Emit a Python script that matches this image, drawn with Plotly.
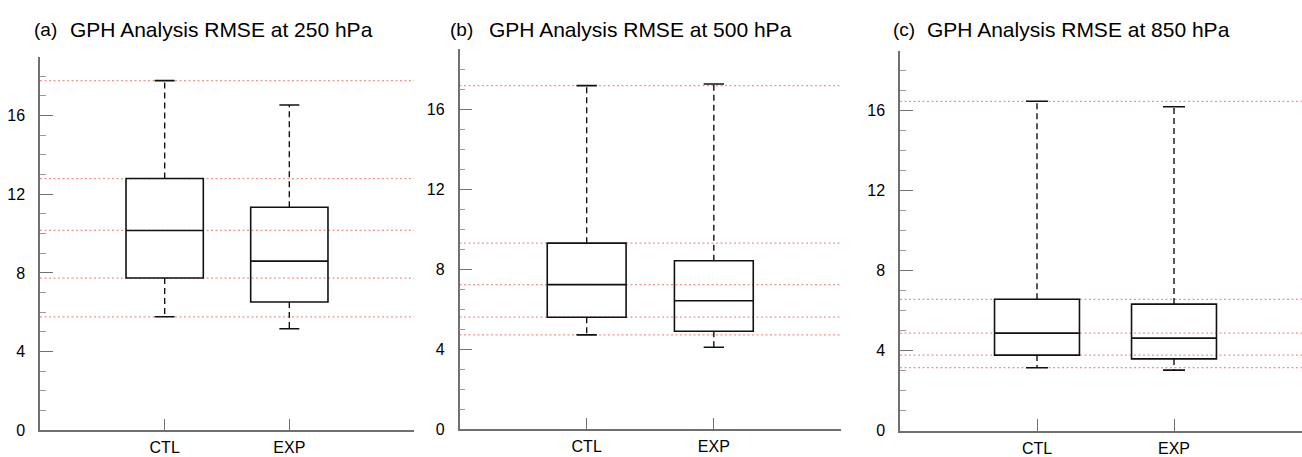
import plotly.graph_objects as go

# ---- data ----
categories = ["CTL", "EXP"]
panel_labels = ["(a)", "(b)", "(c)"]
panel_titles = ["GPH Analysis RMSE at 250 hPa",
                "GPH Analysis RMSE at 500 hPa",
                "GPH Analysis RMSE at 850 hPa"]

# stats order: min, q1, median, q3, max
ctl_250 = [5.77, 7.74, 10.16, 12.80, 17.78]
exp_250 = [5.16, 6.52, 8.60, 11.34, 16.54]
ctl_500 = [4.72, 5.60, 7.23, 9.30, 17.17]
exp_500 = [4.10, 4.90, 6.42, 8.42, 17.25]
ctl_850 = [3.15, 3.78, 4.88, 6.57, 16.47]
exp_850 = [3.03, 3.59, 4.63, 6.33, 16.20]

panels = [(ctl_250, exp_250), (ctl_500, exp_500), (ctl_850, exp_850)]

# ---- layout geometry (pixels) ----
W, H = 1302, 457
px_x = [(40, 414), (459.5, 841), (900, 1302)]
px_y = [(56.6, 430.3), (49, 429.3), (50.7, 430.7)]
x_ranges = [[0, 3], [0, 3], [0, (1302 - 900) / 137.0]]
title_x = [(32, 68), (448, 487), (891, 925)]

BOX_W = 0.62
CAP_HALF = 0.08
AXIS_COL = "#707070"
RED = "rgba(240,100,100,0.7)"

fig = go.Figure()
shapes = []
annotations = []

for i, (ctl, exp) in enumerate(panels):
    xa = "x" if i == 0 else f"x{i+1}"
    ya = "y" if i == 0 else f"y{i+1}"
    # red dotted reference lines at the CTL statistics
    for v in ctl:
        shapes.append(dict(type="line", xref=f"{xa} domain", yref=ya,
                           x0=0, x1=1, y0=v, y1=v, layer="below",
                           line=dict(color=RED, width=1.3, dash="2px,2.5px")))
    for k, st in enumerate([ctl, exp]):
        xc = k + 1
        mn, q1, md, q3, mx = st
        # box
        fig.add_trace(go.Box(x=[xc], q1=[q1], median=[md], q3=[q3],
                             lowerfence=[q1], upperfence=[q3],
                             width=BOX_W, whiskerwidth=0,
                             line=dict(color="#111111", width=1.6),
                             fillcolor="rgba(0,0,0,0)",
                             boxpoints=False, showlegend=False,
                             hoverinfo="skip",
                             xaxis=xa, yaxis=ya))
        # dashed whiskers
        fig.add_trace(go.Scatter(x=[xc, xc, None, xc, xc],
                                 y=[q3, mx, None, q1, mn],
                                 mode="lines", showlegend=False,
                                 hoverinfo="skip",
                                 line=dict(color="#111111", width=1.4,
                                           dash="6px,4px"),
                                 xaxis=xa, yaxis=ya))
        # caps
        fig.add_trace(go.Scatter(x=[xc - CAP_HALF, xc + CAP_HALF, None,
                                    xc - CAP_HALF, xc + CAP_HALF],
                                 y=[mx, mx, None, mn, mn],
                                 mode="lines", showlegend=False,
                                 hoverinfo="skip",
                                 line=dict(color="#111111", width=1.6),
                                 xaxis=xa, yaxis=ya))

    # titles
    annotations.append(dict(text=panel_labels[i], xref="paper", yref="paper",
                            x=title_x[i][0] / W, y=1 - 29.5 / H,
                            xanchor="left", yanchor="middle", showarrow=False,
                            font=dict(family="Liberation Sans", size=19,
                                      color="black")))
    annotations.append(dict(text=panel_titles[i], xref="paper", yref="paper",
                            x=title_x[i][1] / W, y=1 - 29.5 / H,
                            xanchor="left", yanchor="middle", showarrow=False,
                            font=dict(family="Liberation Sans", size=21,
                                      color="black")))

layout = dict(width=W, height=H, autosize=False,
              margin=dict(l=0, r=0, t=0, b=0, pad=0, autoexpand=False),
              paper_bgcolor="white", plot_bgcolor="white",
              shapes=shapes, annotations=annotations,
              font=dict(family="Liberation Sans", size=16, color="black"))

for i in range(3):
    xk = "xaxis" if i == 0 else f"xaxis{i+1}"
    yk = "yaxis" if i == 0 else f"yaxis{i+1}"
    xa = "x" if i == 0 else f"x{i+1}"
    ya = "y" if i == 0 else f"y{i+1}"
    layout[xk] = dict(domain=[px_x[i][0] / W, px_x[i][1] / W],
                      range=x_ranges[i], anchor=ya, automargin=False,
                      tickvals=[0, 1, 2, 3], ticktext=["", categories[0], categories[1], ""],
                      ticks="inside", ticklen=12, tickwidth=1.2, tickcolor=AXIS_COL,
                      showline=True, linecolor=AXIS_COL, linewidth=1.5,
                      showgrid=False, zeroline=False, ticklabelstandoff=2,
                      tickfont=dict(family="Liberation Sans", size=16, color="black"))
    layout[yk] = dict(domain=[1 - px_y[i][1] / H, 1 - px_y[i][0] / H],
                      range=[0, 19], anchor=xa, automargin=False,
                      tickvals=[0, 4, 8, 12, 16],
                      ticks="inside", ticklen=13, tickwidth=1.2, tickcolor=AXIS_COL,
                      minor=dict(dtick=1, tick0=0, ticks="inside", ticklen=6,
                                 tickwidth=1, tickcolor="#9a9a9a", showgrid=False),
                      showline=True, linecolor=AXIS_COL, linewidth=1.5,
                      showgrid=False, zeroline=False, ticklabelstandoff=10,
                      tickfont=dict(family="Liberation Sans", size=16, color="black"))

fig.update_layout(**layout)
fig.write_html("out.html")
